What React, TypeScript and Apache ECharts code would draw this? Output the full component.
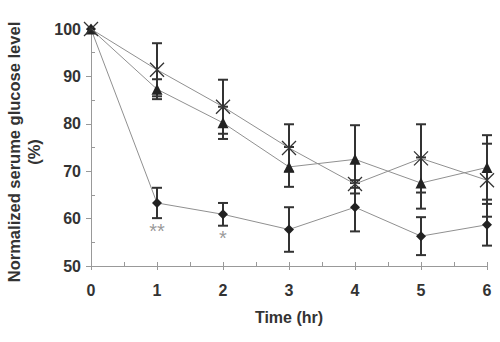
import React, { useEffect, useRef } from "react";
import * as echarts from "echarts";

const hours = [0, 1, 2, 3, 4, 5, 6];
const crossMean = [100, 91.4, 83.6, 74.9, 67.3, 72.7, 68.1];
const crossErr = [0, 5.6, 5.7, 5.0, 0.8, 7.2, 7.7];
const triMean = [100, 87.3, 80.2, 70.9, 72.5, 67.5, 70.8];
const triErr = [0, 2.1, 3.4, 4.2, 7.2, 5.4, 6.8];
const diaMean = [100, 63.3, 60.9, 57.7, 62.4, 56.3, 58.7];
const diaErr = [0, 3.2, 2.4, 4.7, 5.1, 4.0, 4.4];
const sigHours = [1, 2];
const sigY = [57.3, 56.0];
const sigText = ["**", "*"];

const yTitle = "Normalized serume glucose level\n(%)";
const xTitle = "Time (hr)";
const FONT = "'Liberation Sans', Arial, sans-serif";

function pairs(means: number[]) {
  return hours.map((h, i) => [h, means[i]]);
}
function errData(means: number[], errs: number[]) {
  return hours
    .map((h, i) => [h, means[i] - errs[i], means[i] + errs[i]])
    .filter((_, i) => errs[i] > 0);
}

function errSeries(means: number[], errs: number[]) {
  return {
    type: "custom",
    z: 3,
    data: errData(means, errs),
    renderItem: (params: any, api: any) => {
      const x = api.value(0);
      const lo = api.coord([x, api.value(1)]);
      const hi = api.coord([x, api.value(2)]);
      const cw = 5;
      const style = { stroke: "#333333", lineWidth: 2 };
      return {
        type: "group",
        children: [
          { type: "line", shape: { x1: lo[0], y1: lo[1], x2: hi[0], y2: hi[1] }, style },
          { type: "line", shape: { x1: lo[0] - cw, y1: lo[1], x2: lo[0] + cw, y2: lo[1] }, style },
          { type: "line", shape: { x1: hi[0] - cw, y1: hi[1], x2: hi[0] + cw, y2: hi[1] }, style },
        ],
      };
    },
  };
}

export default function App() {
  const ref = useRef<HTMLDivElement>(null);
  useEffect(() => {
    document.body.style.margin = "0";
    const chart = echarts.init(ref.current!, null, { renderer: "svg" });
    const lineStyle = { color: "#909090", width: 1 };
    const option: any = {
      animation: false,
      backgroundColor: "#ffffff",
      grid: { left: 91, right: 13, top: 29, bottom: 76 },
      xAxis: [
        {
          type: "value",
          min: 0,
          max: 6,
          interval: 1,
          axisLine: { lineStyle: { color: "#999999", width: 1 } },
          axisTick: { show: true, length: 4, lineStyle: { color: "#999999" } },
          splitLine: { show: false },
          axisLabel: {
            margin: 16,
            color: "#333333",
            fontWeight: "bold",
            fontSize: 16,
            fontFamily: FONT,
          },
          name: xTitle,
          nameLocation: "middle",
          nameGap: 43,
          nameTextStyle: { color: "#333333", fontWeight: "bold", fontSize: 16, fontFamily: FONT },
        },
        {
          type: "value",
          min: 0,
          max: 6,
          interval: 1,
          position: "bottom",
          axisLine: { show: false },
          axisTick: { show: true, inside: true, length: 4, lineStyle: { color: "#999999" } },
          minorTick: { show: true, splitNumber: 2, length: 4, lineStyle: { color: "#999999" } },
          splitLine: { show: false },
          axisLabel: { show: false },
        },
      ],
      yAxis: [
        {
          type: "value",
          min: 50,
          max: 100,
          interval: 10,
          axisLine: { show: true, lineStyle: { color: "#999999", width: 1 } },
          axisTick: { show: true, length: 5, lineStyle: { color: "#999999" } },
          splitLine: { show: false },
          axisLabel: {
            margin: 10,
            color: "#333333",
            fontWeight: "bold",
            fontSize: 16,
            fontFamily: FONT,
          },
        },
        {
          type: "value",
          min: 50,
          max: 100,
          interval: 10,
          position: "left",
          axisLine: { show: false },
          axisTick: { show: false, inside: true },
          minorTick: { show: true, splitNumber: 2, length: 4, lineStyle: { color: "#999999" } },
          splitLine: { show: false },
          axisLabel: { show: false },
        },
      ],
      graphic: [
        {
          type: "text",
          x: 24,
          y: 152,
          rotation: Math.PI / 2,
          style: {
            text: yTitle,
            fill: "#333333",
            font: `bold 16.5px ${FONT}`,
            textAlign: "center",
            textVerticalAlign: "middle",
            lineHeight: 20,
          },
        },
      ],
      series: [
        {
          type: "line",
          data: pairs(diaMean),
          lineStyle,
          symbol: "diamond",
          symbolSize: 10,
          itemStyle: { color: "#222222" },
          z: 4,
        },
        {
          type: "line",
          data: pairs(triMean),
          lineStyle,
          symbol: "triangle",
          symbolSize: 11,
          itemStyle: { color: "#222222" },
          z: 4,
        },
        {
          type: "line",
          data: pairs(crossMean),
          lineStyle,
          symbol: "path://M0,0L10,10M10,0L0,10",
          symbolSize: 14,
          itemStyle: { color: "none", borderColor: "#333333", borderWidth: 1.3 },
          z: 5,
        },
        errSeries(diaMean, diaErr),
        errSeries(triMean, triErr),
        errSeries(crossMean, crossErr),
        {
          type: "scatter",
          symbolSize: 0,
          data: sigHours.map((h, i) => ({ value: [h, sigY[i]], name: sigText[i] })),
          label: {
            show: true,
            position: "inside",
            formatter: (p: any) => p.name,
            color: "#808080",
            fontSize: 20,
            fontFamily: FONT,
          },
          z: 6,
        },
      ],
    };
    chart.setOption(option);
    return () => chart.dispose();
  }, []);
  return <div ref={ref} style={{ width: 500, height: 342 }} />;
}
